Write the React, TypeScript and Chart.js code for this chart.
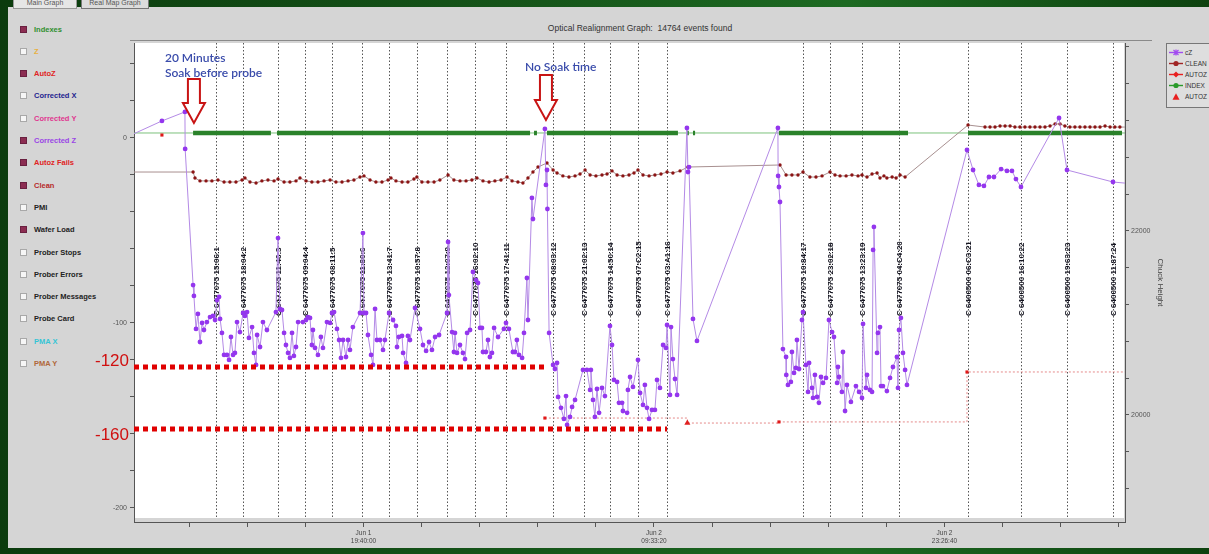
import React, { useEffect, useRef } from 'react';
import { Chart, registerables } from 'chart.js';

Chart.register(...registerables);

const FONT = '"Liberation Sans", Arial, sans-serif';

// ---- axes (x = hours since Jun 1 00:00) ----
const X_MIN = 8.695;
const X_MAX = 56.074;
const Y_MIN = -207.6;
const Y_MAX = 51.35;
const Y2_MIN = 18837;
const Y2_MAX = 24043;

const xTickHours = [11.3333, 14.1111, 16.8889, 19.6667, 22.4444, 25.2222, 28.0, 30.7778, 33.5556, 36.3333, 39.1111, 41.8889, 44.6667, 47.4444, 50.2222, 53.0, 55.7778];
const xTickLabels = ['', '', '', 'Jun 1|19:40:00', '', '', '', '', 'Jun 2|09:33:20', '', '', '', '', 'Jun 2|23:26:40', '', '', ''];
const yTicks = [-200, -180, -160, -140, -120, -100, -80, -60, -40, -20, 0, 20, 40];
const yLabeled = [-200, -100, 0];
const y2Ticks = [19200, 19600, 20000, 20400, 20800, 21200, 21600, 22000, 22400, 22800, 23200, 23600, 24000];
const y2Labeled = [20000, 22000];

// ---- cZ (Corrected Z) ----
const czTime = [
  8.03, 10.03, 11.13, 11.14, 11.52, 11.56, 11.66, 11.75, 11.85, 11.95,
  12.04, 12.18, 12.33, 12.47, 12.57, 12.66, 12.76, 12.81, 12.90, 13.00,
  13.14, 13.24, 13.33, 13.43, 13.52, 13.62, 13.76, 13.91, 14.00, 14.10,
  14.19, 14.34, 14.43, 14.53, 14.58, 14.72, 14.86, 15.05, 15.48, 15.58,
  15.67, 15.77, 15.87, 15.96, 16.06, 16.15, 16.25, 16.34, 16.44, 16.54,
  16.77, 16.92, 17.01, 17.11, 17.20, 17.25, 17.35, 17.49, 17.63, 17.73,
  17.92, 18.07, 18.16, 18.26, 18.40, 18.50, 18.59, 18.69, 18.83, 18.93,
  19.02, 19.16, 19.50, 19.64, 19.69, 19.79, 19.88, 20.03, 20.12, 20.22,
  20.31, 20.46, 20.60, 20.69, 20.89, 21.08, 21.22, 21.27, 21.36, 21.51,
  21.56, 21.70, 21.79, 21.89, 22.13, 22.37, 22.51, 22.66, 22.80, 22.94,
  23.09, 23.28, 23.66, 23.71, 23.75, 23.90, 23.99, 24.04, 24.14, 24.28,
  24.42, 24.52, 24.62, 24.76, 24.90, 25.05, 25.14, 25.24, 25.33, 25.38,
  25.52, 25.62, 25.71, 25.81, 25.91, 26.10, 26.38, 26.48, 26.62, 26.81,
  26.91, 27.00, 27.10, 27.25, 27.34, 27.48, 27.53, 27.72, 27.77, 28.34,
  28.39, 28.44, 28.46, 28.54, 28.73, 28.82, 28.92, 28.97, 29.11, 29.25,
  29.35, 29.40, 29.54, 29.64, 29.78, 30.16, 30.35, 30.50, 30.54, 30.64,
  30.73, 30.83, 30.93, 31.07, 31.21, 31.45, 31.55, 31.64, 31.79, 31.88,
  32.03, 32.07, 32.27, 32.31, 32.41, 32.55, 32.79, 32.89, 33.03, 33.12,
  33.22, 33.32, 33.46, 33.60, 33.70, 33.84, 33.99, 34.13, 34.18, 34.32,
  34.37, 34.46, 34.56, 34.66, 35.13, 35.18, 35.23, 35.42, 35.61, 39.48,
  39.49, 39.53, 39.58, 39.72, 39.87, 39.88, 39.96, 40.10, 40.15, 40.25,
  40.34, 40.39, 40.49, 40.63, 40.68, 40.82, 40.92, 40.97, 41.11, 41.16,
  41.25, 41.35, 41.44, 41.54, 41.64, 41.78, 41.92, 42.07, 42.16, 42.31,
  42.35, 42.40, 42.54, 42.59, 42.69, 42.78, 42.97, 43.21, 43.36, 43.50,
  43.55, 43.69, 43.74, 43.88, 43.98, 44.03, 44.07, 44.22, 44.26, 44.36,
  44.41, 44.50, 44.69, 44.84, 44.98, 45.17, 45.22, 45.27, 45.36, 45.46,
  45.56, 45.65, 48.52, 48.81, 49.09, 49.33, 49.57, 49.81, 50.15, 50.43,
  50.67, 50.86, 51.10, 52.92, 53.30, 55.50, 56.55,
];
const czValue = [
  -1.1, 9.2, 14.1, -5.9, -79.5, -85.4, -103.2, -95.1, -110.3, -100.0,
  -103.8, -99.5, -96.8, -96.2, -98.4, -87.6, -85.9, -97.8, -105.4, -117.3,
  -117.3, -120.0, -107.6, -117.3, -116.2, -99.5, -104.9, -94.6, -96.2, -94.1,
  -108.1, -102.2, -116.2, -122.7, -106.5, -113.0, -99.5, -103.8, -94.1, -54.1,
  -92.4, -93.0, -105.4, -111.9, -116.2, -118.9, -105.4, -117.8, -113.0, -99.5,
  -99.5, -98.4, -96.8, -97.3, -111.9, -103.8, -113.5, -117.3, -107.6, -113.5,
  -99.5, -100.0, -94.6, -94.1, -103.2, -109.2, -118.9, -109.2, -118.4, -109.2,
  -114.6, -102.2, -94.6, -51.4, -94.6, -94.6, -106.5, -117.3, -122.7, -92.4,
  -109.2, -109.2, -114.6, -109.2, -94.6, -98.4, -101.6, -113.0, -107.6, -107.0,
  -116.2, -121.6, -107.0, -109.2, -91.9, -103.2, -111.9, -115.1, -110.3, -114.6,
  -107.6, -106.5, -94.6, -56.2, -84.9, -104.9, -115.7, -105.4, -116.2, -111.9,
  -116.2, -119.5, -105.4, -103.8, -72.4, -76.8, -78.4, -102.7, -102.7, -115.7,
  -115.7, -109.2, -118.4, -116.2, -102.7, -107.6, -103.2, -100.0, -103.2, -115.7,
  -115.7, -109.2, -117.3, -118.9, -105.4, -75.7, -98.4, -32.4, -43.8, 4.9,
  -25.4, -17.3, -38.4, -105.4, -122.7, -124.9, -121.6, -140.0, -145.9, -151.9,
  -139.5, -155.1, -150.8, -145.4, -141.6, -125.4, -125.4, -136.2, -125.4, -141.6,
  -150.8, -135.7, -148.6, -135.1, -139.5, -101.6, -111.9, -130.8, -131.9, -143.2,
  -143.2, -147.6, -148.6, -136.2, -129.2, -134.6, -120.0, -137.8, -144.3, -133.5,
  -145.9, -151.9, -147.0, -147.0, -130.8, -135.1, -111.9, -113.5, -101.1, -138.9,
  -102.2, -119.5, -130.3, -138.9, 5.4, -18.4, -15.7, -97.8, -109.7, 5.4,
  -20.5, -26.5, -34.6, -114.1, -118.4, -128.1, -133.5, -131.9, -115.7, -127.0,
  -124.3, -109.2, -124.9, -98.4, -94.1, -122.7, -137.3, -121.6, -135.1, -140.5,
  -128.1, -140.0, -143.2, -129.2, -132.4, -129.7, -98.4, -104.9, -107.6, -132.4,
  -123.8, -129.2, -137.3, -115.7, -147.6, -133.5, -142.7, -134.1, -137.3, -140.5,
  -100.5, -135.1, -128.1, -136.2, -137.3, -60.5, -48.1, -116.2, -105.4, -102.2,
  -134.1, -134.1, -136.8, -129.7, -123.8, -118.4, -135.1, -103.8, -97.3, -116.2,
  -125.4, -133.5, -6.5, -17.3, -25.4, -25.9, -21.1, -21.1, -16.8, -17.8,
  -17.8, -22.2, -26.5, 10.8, -17.3, -23.8, -24.9,
];

// ---- CLEAN ----
const cleanTime = [
  8.03, 11.52, 11.61, 11.85, 12.14, 12.42, 12.71, 13.00, 13.28, 13.57,
  13.86, 14.00, 14.24, 14.53, 14.81, 15.10, 15.39, 15.58, 15.87, 16.15,
  16.44, 16.63, 16.92, 17.20, 17.49, 17.78, 18.07, 18.35, 18.64, 18.93,
  19.21, 19.50, 19.69, 19.98, 20.26, 20.55, 20.84, 20.98, 21.22, 21.51,
  21.79, 22.08, 22.22, 22.46, 22.75, 23.04, 23.32, 23.71, 23.99, 24.28,
  24.57, 24.85, 25.09, 25.38, 25.67, 25.95, 26.24, 26.53, 26.77, 27.05,
  27.29, 27.53, 27.77, 28.01, 28.44, 28.73, 28.92, 29.20, 29.49, 29.78,
  30.02, 30.26, 30.50, 30.78, 31.07, 31.31, 31.55, 31.79, 32.07, 32.36,
  32.60, 32.79, 33.03, 33.32, 33.60, 33.89, 34.18, 34.46, 34.80, 35.18,
  39.58, 39.87, 40.15, 40.44, 40.68, 41.01, 41.30, 41.59, 41.97, 42.21,
  42.45, 42.74, 43.02, 43.31, 43.50, 43.74, 43.98, 44.22, 44.36, 44.55,
  44.69, 44.94, 45.13, 45.32, 45.56, 48.57, 49.38, 49.62, 49.86, 50.10,
  50.34, 50.58, 50.81, 51.05, 51.29, 51.53, 51.77, 52.01, 52.25, 52.49,
  52.73, 52.97, 53.20, 53.44, 53.68, 53.92, 54.16, 54.40, 54.64, 54.88,
  55.12, 55.36, 55.59, 55.83, 56.55,
];
const cleanValue = [
  -18.4, -18.4, -21.6, -23.2, -23.2, -23.2, -22.7, -23.8, -23.8, -23.8,
  -22.7, -21.6, -23.8, -24.3, -23.2, -22.7, -23.2, -22.2, -23.8, -23.8,
  -23.2, -21.6, -23.2, -23.8, -23.8, -23.2, -22.7, -23.8, -23.8, -23.2,
  -22.7, -21.1, -20.5, -22.7, -23.8, -23.8, -22.7, -21.6, -23.2, -23.8,
  -23.8, -22.2, -21.1, -23.8, -23.8, -23.8, -22.7, -20.0, -22.7, -23.2,
  -23.2, -22.7, -21.6, -23.2, -23.8, -23.2, -22.7, -21.1, -23.2, -23.8,
  -24.3, -21.6, -18.4, -15.7, -13.5, -17.3, -18.9, -20.5, -21.1, -20.5,
  -19.5, -17.3, -20.0, -20.5, -20.0, -19.5, -17.8, -20.0, -20.5, -20.0,
  -18.9, -17.3, -20.0, -20.5, -20.0, -19.5, -18.4, -18.9, -17.8, -15.7,
  -14.6, -20.0, -20.0, -20.0, -18.4, -21.1, -21.1, -20.5, -18.4, -20.0,
  -20.5, -20.5, -20.0, -20.5, -20.0, -21.1, -19.5, -18.9, -21.6, -20.5,
  -21.6, -21.1, -21.6, -20.0, -21.1, 7.0, 5.9, 5.9, 5.9, 6.5,
  6.5, 6.5, 5.9, 5.9, 5.9, 5.9, 5.9, 5.9, 5.9, 6.5,
  7.6, 7.6, 6.5, 5.9, 5.9, 5.9, 5.9, 5.9, 5.9, 5.9,
  6.5, 5.9, 5.9, 5.9, 5.9,
];

// ---- AUTOZ ----
const autozTime = [10.03, 10.04, 28.34, 35.15, 39.53, 48.52, 56.6];
const autozValue = [1.6, null, -151.4, -154.1, -153.5, -126.5, -126.5];
const autozFailTime = [35.15];
const autozFailValue = [-154.1];

// ---- INDEX ----
const indexLevel = 2.7;
const indexSpan = [8.0, 57.0];
const indexRunStart = [11.52, 15.53, 27.82, 28.44, 35.13, 35.42, 39.53, 48.57];
const indexRunEnd = [15.24, 27.63, 27.96, 34.70, 35.22, 35.52, 45.70, 55.93];

// ---- Wafer load events ----
const waferTime = [12.61, 13.91, 15.58, 16.87, 18.16, 19.60, 20.89, 22.22, 23.66, 25.00, 26.48, 28.73, 30.21, 31.45, 32.79, 34.18, 40.68, 41.97, 43.50, 45.27, 48.57, 51.10, 53.30, 55.50];
const waferLabel = [
  'C 6477075 15:06:1', 'C 6477075 18:04:2', 'C 6477075 11:46:3', 'C 6477075 09:04:4',
  'C 6477075 08:11:5', 'C 6477075 11:80:6', 'C 6477075 13:41:7', 'C 6477075 10:57:8',
  'C 6477075 12:07:9', 'C 6477075 16:02:10', 'C 6477075 17:41:11', 'C 6477075 08:03:12',
  'C 6477075 21:02:13', 'C 6477075 14:50:14', 'C 6477075 07:C2:15', 'C 6477075 03:A1:16',
  'C 6477075 10:84:17', 'C 6477075 23:02:18', 'C 6477075 13:23:19', 'C 6477075 04:C4:20',
  'C 6400500 06:C3:21', 'C 6400500 16:10:22', 'C 6400500 19:63:23', 'C 6400500 11:87:24',
];
const waferLabelValue = -96.2;

// ---- Presenter annotations ----
const refLevels = [-120, -160];
const refLineValue = [-123.8, -157.3];
const refLineEnd = [28.39, 34.18];
const arrowTime = [11.56, 28.39];
const arrowTopValue = [31.9, 34.1];
const arrowTipValue = [8.1, 9.7];
const noteLines = [['20 Minutes', 'Soak before probe'], ['No Soak time']];

const panelItems: [string, string, boolean][] = [
  ['Indexes', '#2f8f2f', true],
  ['Z', '#e8b040', false],
  ['AutoZ', '#e02424', true],
  ['Corrected X', '#23238f', false],
  ['Corrected Y', '#e0358f', false],
  ['Corrected Z', '#9a45e6', true],
  ['Autoz Fails', '#e02424', true],
  ['Clean', '#b52a2a', true],
  ['PMI', '#222222', false],
  ['Wafer Load', '#222222', true],
  ['Prober Stops', '#222222', false],
  ['Prober Errors', '#222222', false],
  ['Prober Messages', '#222222', false],
  ['Probe Card', '#222222', false],
  ['PMA X', '#35c5d5', false],
  ['PMA Y', '#b0683a', false],
];

const legendRows = [
  { label: 'cZ', color: '#a24cf0', marker: 'x', line: true },
  { label: 'CLEAN', color: '#a02525', marker: 'circle', line: true },
  { label: 'AUTOZ', color: '#e82020', marker: 'diamond', line: true },
  { label: 'INDEX', color: '#2a9a2a', marker: 'circle', line: true },
  { label: 'AUTOZ', color: '#e82020', marker: 'triangle', line: false },
];

function pts(ts: number[], vs: (number | null)[]) {
  return ts.map((t, i) => ({ x: t, y: vs[i] }));
}

function drawDownArrow(ctx: CanvasRenderingContext2D, cx: number, top: number, tip: number) {
  const sw = 6, hw = 11, hl = 20;
  ctx.beginPath();
  ctx.moveTo(cx - sw, top);
  ctx.lineTo(cx + sw, top);
  ctx.lineTo(cx + sw, tip - hl);
  ctx.lineTo(cx + hw, tip - hl);
  ctx.lineTo(cx, tip);
  ctx.lineTo(cx - hw, tip - hl);
  ctx.lineTo(cx - sw, tip - hl);
  ctx.closePath();
  ctx.fillStyle = '#ffffff';
  ctx.fill();
  ctx.strokeStyle = '#c81414';
  ctx.lineWidth = 2;
  ctx.stroke();
}

const overlayPlugin = {
  id: 'overlay',
  beforeDraw(chart: any) {
    const { ctx, chartArea: a } = chart;
    ctx.save();
    ctx.fillStyle = '#ffffff';
    ctx.fillRect(a.left + 1, a.top, a.right - a.left - 2, a.bottom - a.top - 4);
    ctx.restore();
  },
  beforeDatasetsDraw(chart: any) {
    const { ctx, chartArea: a, scales } = chart;
    const xs = scales.x, ys = scales.y;
    ctx.save();
    ctx.strokeStyle = '#555555';
    ctx.lineWidth = 1;
    ctx.setLineDash([1.5, 2]);
    waferTime.forEach((t) => {
      const px = Math.round(xs.getPixelForValue(t)) + 0.5;
      ctx.beginPath();
      ctx.moveTo(px, a.top);
      ctx.lineTo(px, a.bottom - 4);
      ctx.stroke();
    });
    ctx.setLineDash([]);
    ctx.font = `bold 8px ${FONT}`;
    ctx.fillStyle = '#141420';
    ctx.textBaseline = 'middle';
    ctx.textAlign = 'left';
    const py = ys.getPixelForValue(waferLabelValue);
    waferTime.forEach((t, i) => {
      const px = Math.round(xs.getPixelForValue(t)) + 0.5;
      ctx.save();
      ctx.translate(px, py);
      ctx.rotate(-Math.PI / 2);
      ctx.fillText(waferLabel[i], 0, 0);
      ctx.restore();
    });
    ctx.restore();
  },
  afterDatasetsDraw(chart: any) {
    const { ctx, chartArea: a, scales } = chart;
    const xs = scales.x, ys = scales.y;
    ctx.save();
    arrowTime.forEach((t, i) => {
      const cx = xs.getPixelForValue(t);
      drawDownArrow(ctx, cx, ys.getPixelForValue(arrowTopValue[i]), ys.getPixelForValue(arrowTipValue[i]));
    });
    ctx.fillStyle = '#3a4cab';
    ctx.font = '600 12px Lato, "Open Sans", sans-serif';
    ctx.textAlign = 'left';
    ctx.textBaseline = 'alphabetic';
    const n1x = xs.getPixelForValue(arrowTime[0]) - 29;
    const n1top = ys.getPixelForValue(arrowTopValue[0]);
    ctx.fillText(noteLines[0][0], n1x, n1top - 17);
    ctx.fillText(noteLines[0][1], n1x, n1top - 2);
    const n2x = xs.getPixelForValue(arrowTime[1]) - 21;
    const n2top = ys.getPixelForValue(arrowTopValue[1]);
    ctx.fillText(noteLines[1][0], n2x, n2top - 4);
    ctx.fillStyle = '#d01010';
    ctx.font = `17px ${FONT}`;
    ctx.textAlign = 'right';
    ctx.textBaseline = 'middle';
    refLevels.forEach((lv) => {
      ctx.fillText(String(lv), a.left - 5, ys.getPixelForValue(lv) + 1);
    });
    ctx.restore();
  },
};

const axisFont = { family: FONT, size: 7 };

export default function App() {
  const canvasRef = useRef<HTMLCanvasElement | null>(null);

  useEffect(() => {
    const canvas = canvasRef.current;
    if (!canvas) return;

    const indexData: { x: number; y: number | null }[] = [];
    indexRunStart.forEach((s, i) => {
      indexData.push({ x: s, y: indexLevel });
      indexData.push({ x: indexRunEnd[i], y: indexLevel });
      indexData.push({ x: indexRunEnd[i] + 0.001, y: null });
    });

    const refDatasets = refLineValue.map((v, i) => ({
      label: 'ref' + refLevels[i],
      data: [{ x: X_MIN, y: v }, { x: refLineEnd[i], y: v }],
      borderColor: '#e00000',
      borderWidth: 5,
      borderDash: [5, 4],
      pointRadius: 0,
      clip: 0,
    }));

    const chart = new Chart(canvas, {
      type: 'line',
      data: {
        datasets: [
          ...refDatasets,
          {
            label: 'cZ',
            data: pts(czTime, czValue),
            borderColor: '#b48ae6',
            borderWidth: 1,
            pointRadius: 2.4,
            pointBorderWidth: 0,
            pointBackgroundColor: '#9436ee',
          },
          {
            label: 'AUTOZ fails',
            data: pts(autozFailTime, autozFailValue),
            showLine: false,
            pointStyle: 'triangle',
            pointRadius: 3.5,
            pointBorderWidth: 0,
            pointBackgroundColor: '#e02020',
          },
          {
            label: 'AUTOZ',
            data: pts(autozTime, autozValue),
            stepped: true,
            borderColor: '#e58a8a',
            borderWidth: 1,
            borderDash: [2, 2],
            pointStyle: 'rect',
            pointRadius: (c: any) => (c.dataIndex === 3 || c.dataIndex === 6 ? 0 : 2.2),
            pointBorderWidth: 0,
            pointBackgroundColor: '#e01818',
          },
          {
            label: 'CLEAN',
            data: pts(cleanTime, cleanValue),
            borderColor: '#a89090',
            borderWidth: 1,
            pointRadius: 1.7,
            pointBorderWidth: 0,
            pointBackgroundColor: '#8b1414',
          },
          {
            label: 'INDEX',
            data: indexData,
            borderColor: '#2a822a',
            borderWidth: 4.5,
            pointRadius: 0,
          },
          {
            label: 'INDEX line',
            data: [{ x: indexSpan[0], y: indexLevel }, { x: indexSpan[1], y: indexLevel }],
            borderColor: '#7cc27c',
            borderWidth: 1,
            pointRadius: 0,
          },
        ],
      },
      options: {
        responsive: false,
        animation: false,
        events: [],
        layout: { padding: { top: 43, right: 40, left: 0, bottom: 0 } },
        plugins: {
          legend: { display: false },
          tooltip: { enabled: false },
          title: { display: false },
        },
        scales: {
          x: {
            type: 'linear',
            min: X_MIN,
            max: X_MAX,
            afterFit: (s: any) => { s.height = 32; },
            afterBuildTicks: (s: any) => { s.ticks = xTickHours.map((v) => ({ value: v })); },
            ticks: {
              autoSkip: false,
              maxRotation: 0,
              minRotation: 0,
              padding: 2,
              color: '#444444',
              font: { family: FONT, size: 6.5, lineHeight: 1.3 },
              callback: (_v: any, i: number) => (xTickLabels[i] ? xTickLabels[i].split('|') : ''),
            },
            grid: { drawOnChartArea: false, drawTicks: true, tickLength: 5, color: '#555555' },
            border: { display: true, color: '#555555' },
          },
          y: {
            type: 'linear',
            position: 'left',
            min: Y_MIN,
            max: Y_MAX,
            afterFit: (s: any) => { s.width = 134; },
            afterBuildTicks: (s: any) => { s.ticks = yTicks.map((v) => ({ value: v })); },
            ticks: {
              padding: 3,
              color: '#555555',
              font: axisFont,
              callback: (v: any) => (yLabeled.includes(Number(v)) ? String(v) : ''),
            },
            grid: { drawOnChartArea: false, drawTicks: true, tickLength: 4, color: '#555555' },
            border: { display: true, color: '#555555' },
          },
          y2: {
            type: 'linear',
            position: 'right',
            min: Y2_MIN,
            max: Y2_MAX,
            afterFit: (s: any) => { s.width = 44; },
            afterBuildTicks: (s: any) => { s.ticks = y2Ticks.map((v) => ({ value: v })); },
            ticks: {
              padding: 2,
              color: '#555555',
              font: axisFont,
              callback: (v: any) => (y2Labeled.includes(Number(v)) ? String(v) : ''),
            },
            grid: { drawOnChartArea: false, drawTicks: true, tickLength: 4, color: '#555555' },
            border: { display: true, color: '#555555' },
            title: { display: true, text: 'Chuck Height', color: '#444444', font: { family: FONT, size: 8 } },
          },
        },
      } as any,
      plugins: [overlayPlugin],
    });

    return () => chart.destroy();
  }, []);

  const marker = (m: string, color: string) => {
    if (m === 'x') return <path d="M4.5 1 L9.5 6 M9.5 1 L4.5 6 M7 0.5 L7 6.5" stroke={color} strokeWidth={1.2} />;
    if (m === 'circle') return <circle cx={7} cy={3.5} r={2.6} fill={color} />;
    if (m === 'diamond') return <path d="M7 0.5 L10 3.5 L7 6.5 L4 3.5 Z" fill={color} />;
    return <path d="M7 0.3 L10.5 6.7 L3.5 6.7 Z" fill={color} />;
  };

  return (
    <div style={{ position: 'fixed', left: 0, top: 0, width: 1209, height: 554, overflow: 'hidden', background: 'linear-gradient(90deg, #0b3b0d 0%, #16561a 45%, #1d6a22 70%, #0d420f 100%)' }}>
      <div style={{ position: 'absolute', left: 8, top: 7, width: 1201, height: 541, background: '#d5d5d5' }} />
      <div style={{ position: 'absolute', left: 13, top: -4, width: 62, height: 11, border: '1px solid #999', background: '#e6e6e6', font: `7px ${FONT}`, color: '#555', textAlign: 'center', lineHeight: '11px' }}>Main Graph</div>
      <div style={{ position: 'absolute', left: 81, top: -4, width: 66, height: 11, border: '1px solid #777', background: '#dcdcdc', font: `7px ${FONT}`, color: '#555', textAlign: 'center', lineHeight: '11px' }}>Real Map Graph</div>
      <div style={{ position: 'absolute', left: 130, top: 23, width: 1020, textAlign: 'center', font: `8.5px ${FONT}`, color: '#333' }}>Optical Realignment Graph:&nbsp; 14764 events found</div>
      <div style={{ position: 'absolute', left: 130, top: 40, width: 1022, height: 1, background: '#8a8a8a' }} />
      {panelItems.map(([label, color, checked], i) => (
        <div key={label} style={{ position: 'absolute', left: 20, top: 29 + i * 22.3 - 5, height: 10, display: 'flex', alignItems: 'center' }}>
          <div style={{ width: 5, height: 5, marginRight: 7, background: checked ? '#8c2d52' : '#f6f6f6', border: checked ? '1px solid #6a2040' : '1px solid #a8a8a8' }} />
          <span style={{ font: `bold 7.5px ${FONT}`, color, whiteSpace: 'nowrap' }}>{label}</span>
        </div>
      ))}
      <canvas ref={canvasRef} width={1209} height={554} style={{ position: 'absolute', left: 0, top: 0, width: 1209, height: 554 }} />
      <div style={{ position: 'absolute', left: 1166, top: 43, width: 70, height: 63, border: '1px solid #777', background: '#dedede' }}>
        {legendRows.map((r, i) => (
          <div key={i} style={{ position: 'absolute', left: 2, top: 4 + i * 11, height: 8, display: 'flex', alignItems: 'center' }}>
            <svg width={14} height={7} style={{ marginRight: 2 }}>
              {r.line && <line x1={0} y1={3.5} x2={14} y2={3.5} stroke={r.color} strokeWidth={1.4} />}
              {marker(r.marker, r.color)}
            </svg>
            <span style={{ font: `6.5px ${FONT}`, color: '#333' }}>{r.label}</span>
          </div>
        ))}
      </div>
    </div>
  );
}
